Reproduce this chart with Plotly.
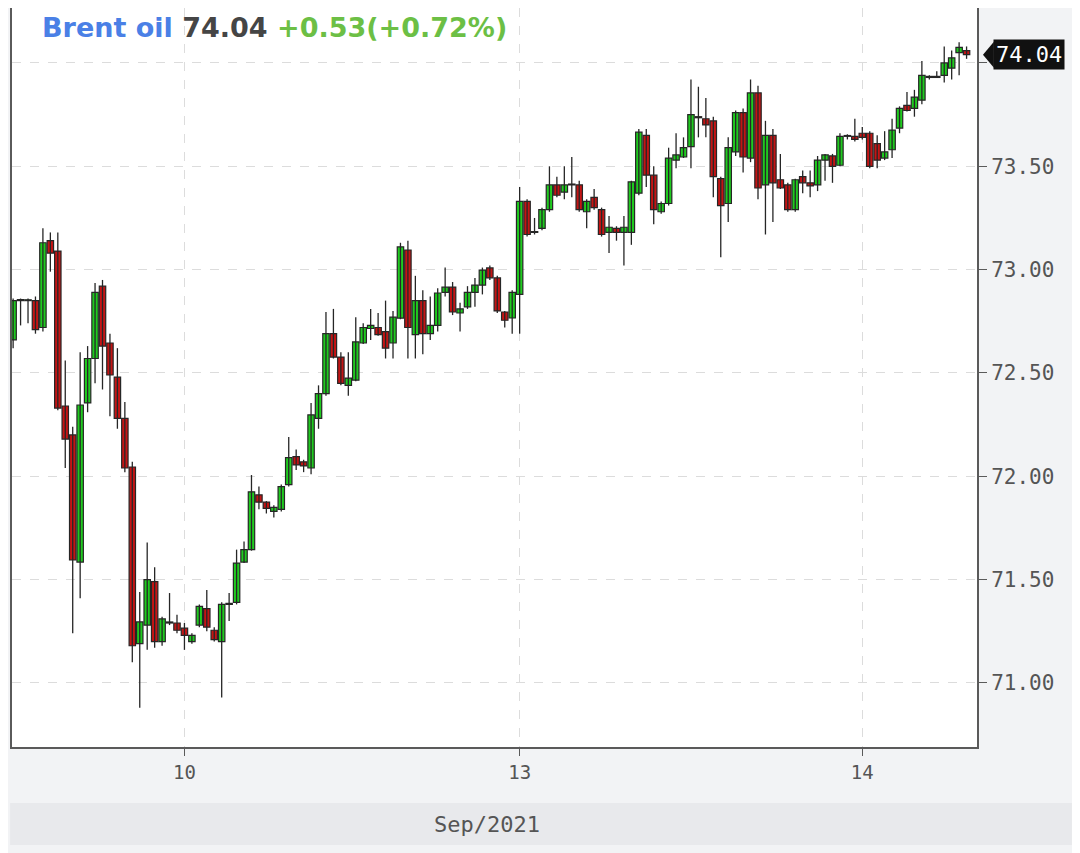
import plotly.graph_objects as go

# ---- data (30-min candles, Sep 9-14 2021) ----
opens = [72.66, 72.85, 72.85, 72.85, 72.72, 73.14, 73.09, 72.34, 72.20, 71.585,
         72.355, 72.57, 72.92, 72.645, 72.48, 72.28, 72.045, 71.19, 71.28, 71.49,
         71.20, 71.295, 71.29, 71.265, 71.20, 71.28, 71.36, 71.255, 71.20, 71.38,
         71.39, 71.585, 71.645, 71.91, 71.875, 71.83, 71.84, 71.96, 72.095, 72.07,
         72.04, 72.28, 72.40, 72.69, 72.577, 72.44, 72.465, 72.645, 72.715, 72.72,
         72.70, 72.645, 72.765, 73.095, 72.685, 72.85, 72.69, 72.73, 72.89, 72.915,
         72.79, 72.82, 72.89, 72.925, 73.008, 72.96, 72.795, 72.766, 72.88, 73.33,
         73.18, 73.20, 73.29, 73.41, 73.375, 73.41, 73.41, 73.28, 73.35, 73.29,
         73.18, 73.20, 73.18, 73.18, 73.37, 73.65, 73.457, 73.28, 73.32, 73.53,
         73.545, 73.595, 73.74, 73.73, 73.72, 73.44, 73.32, 73.57, 73.76, 73.54,
         73.855, 73.41, 73.65, 73.435, 73.41, 73.29, 73.45, 73.42, 73.41, 73.53,
         73.55, 73.505, 73.645, 73.645, 73.66, 73.66, 73.61, 73.54, 73.58, 73.685,
         73.795, 73.78, 73.82, 73.93, 73.93, 73.94, 73.975, 74.05, 74.06]
highs = [72.86, 72.86, 72.86, 72.87, 73.20, 73.18, 73.18, 72.56, 72.24, 72.60,
         72.63, 72.935, 72.95, 72.69, 72.62, 72.36, 72.07, 71.44, 71.68, 71.56,
         71.32, 71.435, 71.33, 71.29, 71.24, 71.38, 71.45, 71.27, 71.39, 71.435,
         71.645, 71.685, 72.006, 71.95, 71.88, 71.86, 71.96, 72.19, 72.13, 72.08,
         72.355, 72.44, 72.795, 72.81, 72.60, 72.60, 72.77, 72.74, 72.81, 72.79,
         72.85, 72.80, 73.13, 73.14, 72.97, 72.90, 72.87, 72.91, 73.01, 72.94,
         72.84, 72.92, 72.96, 73.01, 73.02, 72.97, 72.80, 72.90, 73.40, 73.34,
         73.25, 73.30, 73.50, 73.45, 73.50, 73.545, 73.43, 73.34, 73.39, 73.30,
         73.26, 73.21, 73.26, 73.43, 73.68, 73.68, 73.50, 73.33, 73.59, 73.66,
         73.64, 73.92, 73.885, 73.83, 73.74, 73.45, 73.64, 73.77, 73.78, 73.92,
         73.89, 73.72, 73.68, 73.56, 73.42, 73.44, 73.48, 73.48, 73.55, 73.56,
         73.56, 73.66, 73.655, 73.73, 73.69, 73.67, 73.65, 73.67, 73.73, 73.79,
         73.86, 73.87, 74.01, 73.94, 73.96, 74.08, 74.06, 74.10, 74.08]
lows = [72.62, 72.73, 72.74, 72.69, 72.70, 72.99, 72.32, 72.04, 71.24, 71.41,
        72.31, 72.45, 72.42, 72.29, 72.23, 72.02, 71.10, 70.88, 71.16, 71.17,
        71.18, 71.28, 71.24, 71.16, 71.19, 71.27, 71.25, 71.20, 70.93, 71.30,
        71.38, 71.58, 71.64, 71.84, 71.82, 71.80, 71.83, 71.95, 72.03, 72.02,
        72.01, 72.23, 72.39, 72.57, 72.44, 72.39, 72.46, 72.64, 72.66, 72.68,
        72.57, 72.57, 72.76, 72.57, 72.57, 72.59, 72.66, 72.70, 72.87, 72.78,
        72.70, 72.81, 72.82, 72.88, 72.95, 72.79, 72.72, 72.69, 72.69, 73.16,
        73.17, 73.19, 73.28, 73.35, 73.34, 73.35, 73.28, 73.20, 73.29, 73.16,
        73.08, 73.14, 73.02, 73.12, 73.36, 73.40, 73.22, 73.27, 73.31, 73.49,
        73.54, 73.49, 73.64, 73.64, 73.35, 73.06, 73.23, 73.55, 73.47, 73.52,
        73.34, 73.17, 73.23, 73.39, 73.28, 73.28, 73.37, 73.35, 73.38, 73.43,
        73.42, 73.50, 73.63, 73.62, 73.63, 73.49, 73.49, 73.53, 73.54, 73.66,
        73.765, 73.74, 73.80, 73.92, 73.93, 73.905, 73.92, 73.94, 74.02]
closes = [72.85, 72.855, 72.85, 72.71, 73.13, 73.08, 72.33, 72.18, 71.595, 72.345,
          72.57, 72.89, 72.63, 72.49, 72.28, 72.04, 71.18, 71.295, 71.50, 71.20,
          71.31, 71.29, 71.255, 71.23, 71.23, 71.37, 71.27, 71.21, 71.38, 71.385,
          71.58, 71.645, 71.925, 71.875, 71.845, 71.85, 71.95, 72.09, 72.055, 72.05,
          72.297, 72.40, 72.69, 72.577, 72.45, 72.475, 72.65, 72.72, 72.73, 72.685,
          72.62, 72.77, 73.11, 72.72, 72.85, 72.69, 72.73, 72.887, 72.915, 72.795,
          72.81, 72.89, 72.925, 72.998, 72.96, 72.80, 72.755, 72.89, 73.33, 73.17,
          73.18, 73.29, 73.41, 73.36, 73.41, 73.41, 73.29, 73.33, 73.30, 73.17,
          73.205, 73.18, 73.205, 73.425, 73.665, 73.457, 73.29, 73.32, 73.54, 73.555,
          73.59, 73.75, 73.735, 73.70, 73.45, 73.31, 73.59, 73.76, 73.545, 73.855,
          73.395, 73.65, 73.42, 73.395, 73.29, 73.435, 73.42, 73.405, 73.53, 73.555,
          73.50, 73.645, 73.645, 73.63, 73.64, 73.50, 73.53, 73.57, 73.675, 73.78,
          73.77, 73.835, 73.94, 73.935, 73.935, 74.00, 74.025, 74.075, 74.04]

x_index = list(range(len(closes)))

# day boundaries (candle index where a new day label is placed)
day_tick_index = [23, 68, 114]
day_tick_labels = ["10", "13", "14"]

price_ticks = [71.0, 71.5, 72.0, 72.5, 73.0, 73.5, 74.0]
price_tick_text = ["71.00", "71.50", "72.00", "72.50", "73.00", "73.50", ""]

instrument = "Brent oil"
last_price = closes[-1]
change_abs = 0.53
change_pct = 0.72
month_label = "Sep/2021"

UP = "#1fcb1f"
DOWN = "#c41414"
EDGE = "#262626"

# ---- derived drawing arrays ----
body_base = [min(o, c) for o, c in zip(opens, closes)]
body_len = [max(abs(c - o), 0.004) for o, c in zip(opens, closes)]
body_col = [UP if c >= o else DOWN for o, c in zip(opens, closes)]

wick_x, wick_y = [], []
for i, lo, hi in zip(x_index, lows, highs):
    wick_x += [i, i, None]
    wick_y += [lo, hi, None]

# ---- figure ----
fig = go.Figure()
fig.add_trace(go.Scatter(
    x=wick_x, y=wick_y, mode="lines", line=dict(color=EDGE, width=1.3),
    showlegend=False, hoverinfo="skip", connectgaps=False,
))
fig.add_trace(go.Bar(
    x=x_index, y=body_len, base=body_base, width=0.86,
    marker=dict(color=body_col, line=dict(color=EDGE, width=1.2)),
    showlegend=False, hoverinfo="skip",
))

grid = "#dcdcdc"
axis_col = "#5a5a5a"
font_fam = "DejaVu Sans Mono, DejaVu Sans"

fig.update_layout(
    width=1072, height=845,
    margin=dict(l=4, r=103, t=0, b=106),
    paper_bgcolor="#f2f3f5",
    plot_bgcolor="#ffffff",
    xaxis=dict(
        range=[-0.15, 129.4],
        tickmode="array", tickvals=day_tick_index, ticktext=day_tick_labels,
        showgrid=True, gridcolor=grid, griddash="dash", gridwidth=1,
        showline=True, linecolor=axis_col, linewidth=2,
        ticks="outside", ticklen=7, tickcolor=axis_col, tickwidth=1,
        tickfont=dict(family=font_fam, size=19, color="#555555"),
        zeroline=False, fixedrange=True,
    ),
    yaxis=dict(
        side="right", range=[70.69, 74.266],
        tickmode="array", tickvals=price_ticks, ticktext=price_tick_text,
        showgrid=True, gridcolor=grid, griddash="dash", gridwidth=1,
        showline=True, linecolor=axis_col, linewidth=2, mirror=True,
        ticks="outside", ticklen=8, tickcolor=axis_col, tickwidth=1,
        tickfont=dict(family=font_fam, size=21, color="#555555"),
        zeroline=False, fixedrange=True,
    ),
)

# title line
fig.add_annotation(
    xref="paper", yref="paper", x=0.029, y=0.973, xanchor="left", yanchor="middle",
    showarrow=False,
    text=(f"<b><span style='color:#4a80e6'>{instrument}</span> "
          f"<span style='color:#454545'>{last_price:.2f}</span> "
          f"<span style='color:#6cbf45'>+{change_abs:.2f}(+{change_pct:.2f}%)</span></b>"),
    font=dict(family="DejaVu Sans", size=27),
)

# bottom month band
fig.add_shape(type="rect", xref="paper", yref="paper",
              x0=-0.002, x1=1.0984, y0=-0.1326, y1=-0.0758,
              fillcolor="#e8e9ec", line=dict(width=0), layer="below")
fig.add_annotation(xref="paper", yref="paper", x=0.492, y=-0.1042,
                   xanchor="center", yanchor="middle",
                   text=month_label, showarrow=False,
                   font=dict(family=font_fam, size=22, color="#555555"))

# last price tag
half_h = 13 / 206.7
fig.add_shape(type="path", xref="paper", yref="y",
              path=(f"M 1.0062,{last_price} L 1.0175,{last_price + half_h} "
                    f"L 1.0175,{last_price - half_h} Z"),
              fillcolor="#111111", line=dict(width=0))
fig.add_annotation(xref="paper", yref="y", x=1.0165, y=last_price,
                   xanchor="left", yanchor="middle", showarrow=False,
                   text=f"{last_price:.2f}", bgcolor="#111111",
                   font=dict(family=font_fam, size=22, color="#ffffff"),
                   borderpad=2)

fig.write_html("out.html")
